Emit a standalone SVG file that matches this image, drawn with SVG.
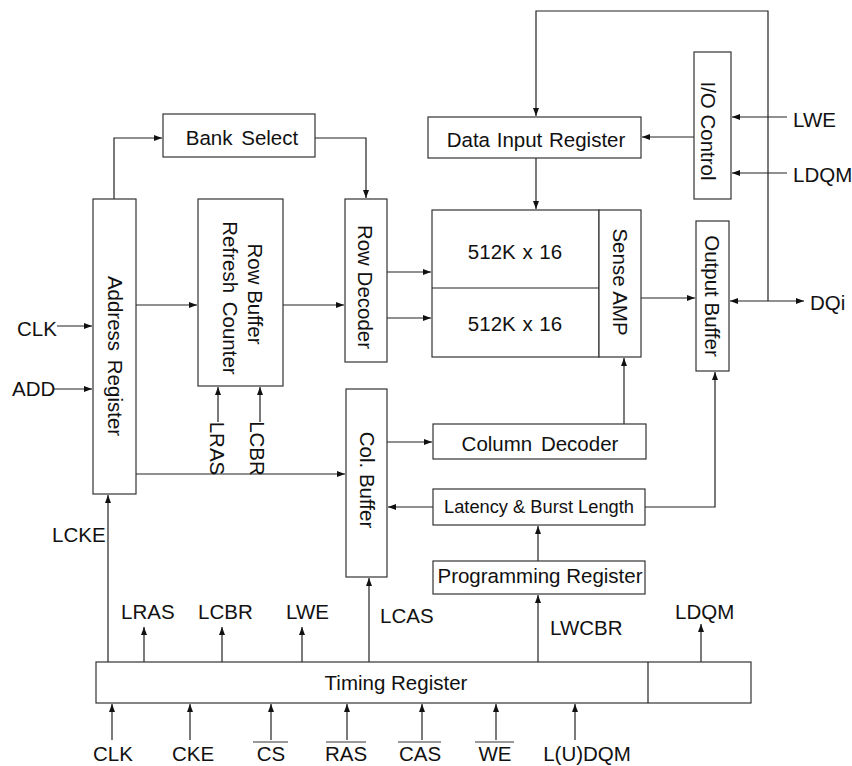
<svg xmlns="http://www.w3.org/2000/svg" width="852" height="766" viewBox="0 0 852 766">
<style>
.box{fill:#fff;stroke:#333;stroke-width:1.2}
.ln{fill:none;stroke:#222;stroke-width:1.2}
.ar{marker-end:url(#ah)}
.t{font-family:"Liberation Sans",Arial,sans-serif;font-size:20.5px;fill:#111}
.m{text-anchor:middle}
.s{font-size:18.3px}
.ov{stroke:#777;stroke-width:1.3}
</style>
<defs>
<marker id="ah" markerUnits="userSpaceOnUse" markerWidth="9" markerHeight="7" refX="8" refY="3.5" orient="auto-start-reverse">
<path d="M0,0.5 L8,3.5 L0,6.5 z" fill="#111"/>
</marker>
</defs>
<rect width="852" height="766" fill="#fff"/>

<g id="connectors">
<path class="ln ar" d="M114,199 V138 H162"/>
<path class="ln ar" d="M315,138 H366 V198"/>
<path class="ln ar" d="M136,305 H197"/>
<path class="ln ar" d="M283,305 H344"/>
<path class="ln ar" d="M387,272 H431"/>
<path class="ln ar" d="M387,318 H431"/>
<path class="ln ar" d="M57,326 H92"/>
<path class="ln ar" d="M53,389 H92"/>
<path class="ln ar" d="M136,474 H345"/>
<path class="ln ar" d="M218,422 V387"/>
<path class="ln ar" d="M260,422 V387"/>
<path class="ln ar" d="M387,442 H432"/>
<path class="ln ar" d="M433,507 H388"/>
<path class="ln ar" d="M624,424 V358"/>
<path class="ln ar" d="M645,507 H715 V372"/>
<path class="ln ar" d="M538,561 V526"/>
<path class="ln ar" d="M538,662 V595"/>
<path class="ln ar" d="M369,662 V578"/>
<path class="ln ar" d="M108,662 V495"/>
<path class="ln ar" d="M144,662 V627"/>
<path class="ln ar" d="M222,662 V627"/>
<path class="ln ar" d="M302,662 V627"/>
<path class="ln ar" d="M701,662 V624"/>
<path class="ln ar" d="M536,158 V209"/>
<path class="ln ar" d="M768,301 V11 H536 V116"/>
<path class="ln ar" d="M694,137 H642"/>
<path class="ln ar" d="M787,117 H732"/>
<path class="ln ar" d="M787,173 H732"/>
<path class="ln ar" d="M641,298 H695"/>
<path class="ln ar" d="M730,301 H804" marker-start="url(#ah)"/>
<path class="ln ar" d="M112,740 V704"/>
<path class="ln ar" d="M190,740 V704"/>
<path class="ln ar" d="M271,740 V704"/>
<path class="ln ar" d="M347,740 V704"/>
<path class="ln ar" d="M422,740 V704"/>
<path class="ln ar" d="M496,740 V704"/>
<path class="ln ar" d="M575,740 V704"/>
</g>

<g id="bank-select">
<rect class="box" x="163" y="114" width="152" height="43"/>
<text class="t m" x="242" y="145" word-spacing="3">Bank Select</text>
</g>

<g id="address-register">
<rect class="box" x="93" y="199" width="43" height="295"/>
<text class="t m" x="115" y="363.3" word-spacing="3" transform="rotate(90 115 356)">Address Register</text>
</g>

<g id="row-buffer">
<rect class="box" x="198" y="199" width="85" height="187"/>
<text class="t m" x="255" y="301.3" transform="rotate(90 255 294)">Row Buffer</text>
<text class="t m" x="230" y="305.3" word-spacing="3" transform="rotate(90 230 298)">Refresh Counter</text>
</g>

<g id="lras-lcbr-labels">
<text class="t m" x="217" y="455.8" transform="rotate(90 217 448.5)">LRAS</text>
<text class="t m" x="257" y="455.8" transform="rotate(90 257 448.5)">LCBR</text>
</g>

<g id="row-decoder">
<rect class="box" x="345" y="199" width="42" height="163"/>
<text class="t m" x="365" y="294.3" transform="rotate(90 365 287)">Row Decoder</text>
</g>

<g id="col-buffer">
<rect class="box" x="346" y="389" width="41" height="188"/>
<text class="t m" x="367" y="487.3" transform="rotate(90 367 480)">Col. Buffer</text>
</g>

<g id="data-input-register">
<rect class="box" x="428" y="117" width="213" height="41"/>
<text class="t m" x="536" y="147" word-spacing="1">Data Input Register</text>
</g>

<g id="io-control">
<rect class="box" x="694" y="52" width="37" height="147"/>
<text class="t m" x="708" y="138.3" transform="rotate(90 708 131)">I/O Control</text>
</g>

<g id="memory-array">
<rect class="box" x="432" y="210" width="167" height="147"/>
<line class="ln" x1="432" y1="288" x2="599" y2="288"/>
<text class="t m" x="515" y="259" word-spacing="1">512K x 16</text>
<text class="t m" x="515" y="331" word-spacing="1">512K x 16</text>
</g>

<g id="sense-amp">
<rect class="box" x="599" y="210" width="42" height="147"/>
<text class="t m" x="620" y="289.3" transform="rotate(90 620 282)">Sense AMP</text>
</g>

<g id="output-buffer">
<rect class="box" x="696" y="221" width="33" height="150"/>
<text class="t m" x="712" y="303.3" transform="rotate(90 712 296)">Output Buffer</text>
</g>

<g id="column-decoder">
<rect class="box" x="433" y="424" width="213" height="35"/>
<text class="t m" x="540" y="451" word-spacing="3">Column Decoder</text>
</g>

<g id="latency-burst-length">
<rect class="box" x="433" y="489" width="212" height="36"/>
<text class="t s m" x="539" y="513">Latency &amp; Burst Length</text>
</g>

<g id="programming-register">
<rect class="box" x="433" y="561" width="212" height="33"/>
<text class="t m" x="540" y="583">Programming Register</text>
</g>

<g id="timing-register">
<rect class="box" x="96" y="662" width="655" height="41"/>
<line class="ln" x1="648" y1="662" x2="648" y2="703"/>
<text class="t m" x="396" y="690">Timing Register</text>
</g>

<g id="labels">
<text class="t" x="17" y="336">CLK</text>
<text class="t" x="12" y="396">ADD</text>
<text class="t" x="52" y="542">LCKE</text>
<text class="t" x="121" y="619">LRAS</text>
<text class="t" x="198" y="619">LCBR</text>
<text class="t" x="286" y="619">LWE</text>
<text class="t" x="380" y="623">LCAS</text>
<text class="t" x="550" y="635">LWCBR</text>
<text class="t" x="675" y="619">LDQM</text>
<text class="t" x="793" y="127">LWE</text>
<text class="t" x="793" y="182">LDQM</text>
<text class="t" x="810" y="310">DQi</text>
<text class="t m" x="113" y="761">CLK</text>
<text class="t m" x="193" y="761">CKE</text>
<text class="t m" x="271" y="761">CS</text>
<text class="t m" x="346" y="761">RAS</text>
<text class="t m" x="420" y="761">CAS</text>
<text class="t m" x="495" y="761">WE</text>
<text class="t m" x="587" y="761">L(U)DQM</text>
<line class="ov" x1="253" y1="742" x2="288" y2="742"/>
<line class="ov" x1="326" y1="742" x2="366" y2="742"/>
<line class="ov" x1="398" y1="742" x2="441" y2="742"/>
<line class="ov" x1="475" y1="742" x2="514" y2="742"/>
</g>
</svg>
